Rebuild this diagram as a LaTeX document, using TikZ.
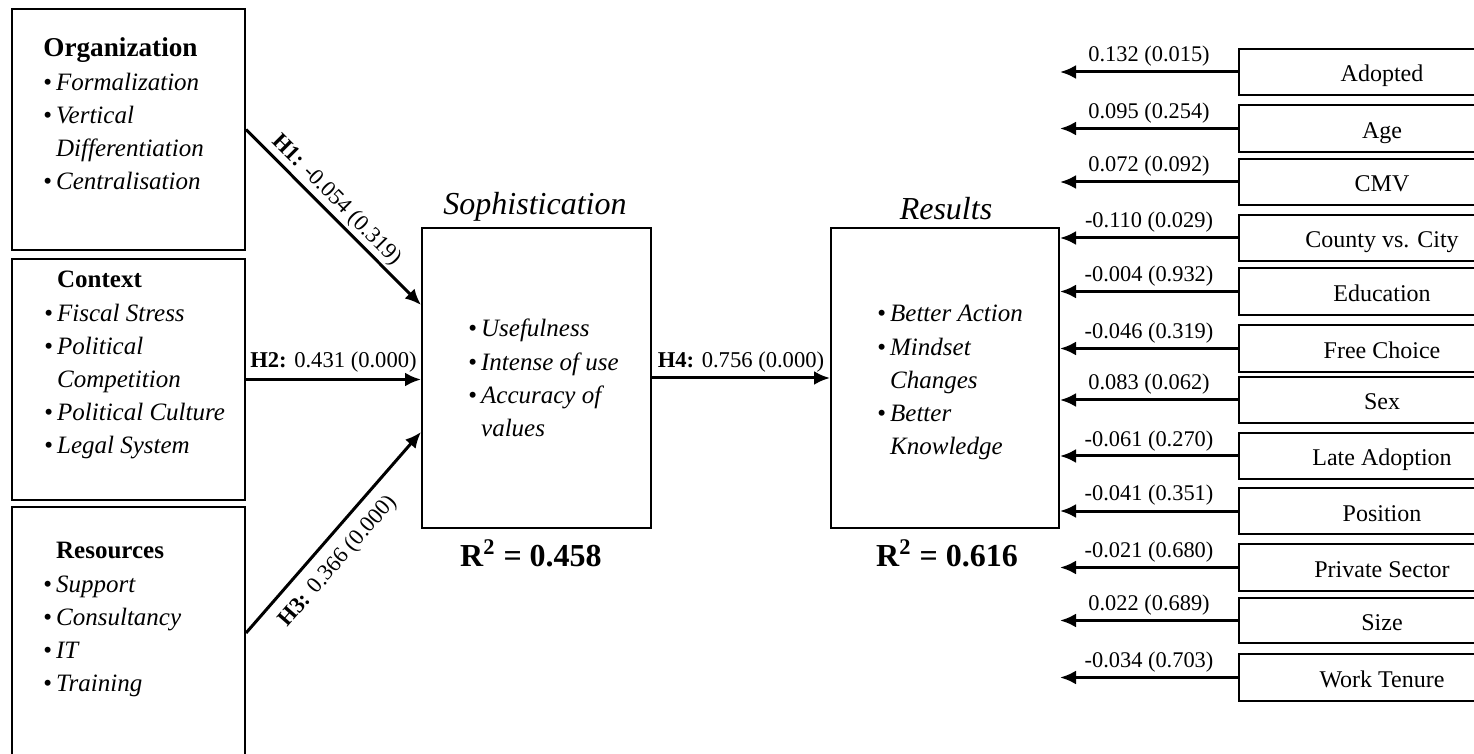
\documentclass[tikz,border=0pt]{standalone}
\usepackage{fontspec}
\setmainfont{Liberation Serif}
\usetikzlibrary{arrows.meta,fit,calc}
\newcommand{\bitem}[1]{\textbullet\hspace{2pt}\textit{#1}}
\newcommand{\citem}[1]{\phantom{\textbullet\hspace{2pt}}\textit{#1}}
\begin{document}
\begin{tikzpicture}[x=0.5pt,y=-0.5pt,
  box/.style={draw,line width=1pt,inner sep=0pt},
  rtxt/.style={anchor=base,inner sep=0pt,yshift=-5pt,font=\fontsize{12}{14}\selectfont},
  arr/.style={line width=1.5pt,-{Latex[length=8pt,width=7pt]}},
  lst/.style={anchor=base west,inner sep=0pt,font=\fontsize{12.5}{16.6}\selectfont},
  ttl/.style={anchor=base,inner sep=0pt,font=\fontsize{16}{19}\selectfont\itshape},
  rsq/.style={anchor=base,inner sep=0pt,font=\fontsize{16}{19}\selectfont\bfseries},
  hlab/.style={font=\fontsize{11.3}{13}\selectfont},
  nlab/.style={midway,anchor=base,inner sep=0pt,yshift=5pt,font=\fontsize{11.2}{13}\selectfont}]
\useasboundingbox (0,0) rectangle (1474,754);
\clip (0,0) rectangle (1474,754);

% left boxes
\node[box,fit={(12,9)(245,250)}] (org) {};
\node[box,fit={(12,259)(245,500)}] (ctx) {};
\node[box,fit={(12,507)(245,759)}] (res) {};
% central boxes
\node[box,fit={(422,228)(651,528)}] (soph) {};
\node[box,fit={(831,228)(1059,528)}] (rslt) {};

% left texts
\node[lst] (orgt) at (43,57) {\begin{tabular}[t]{@{}l@{}}{\fontsize{13.6}{16.6}\selectfont\textbf{Organization}}\\
  \bitem{Formalization}\\ \bitem{Vertical}\\ \citem{Differentiation}\\ \bitem{Centralisation}\end{tabular}};
\node[lst] (ctxt) at (44,288) {\begin{tabular}[t]{@{}l@{}}\citem{\textbf{\upshape Context}}\\
  \bitem{Fiscal Stress}\\ \bitem{Political}\\ \citem{Competition}\\ \bitem{Political Culture}\\ \bitem{Legal System}\end{tabular}};
\node[lst] (rest) at (43,559) {\begin{tabular}[t]{@{}l@{}}\citem{\textbf{\upshape Resources}}\\
  \bitem{Support}\\ \bitem{Consultancy}\\ \bitem{IT}\\ \bitem{Training}\end{tabular}};

% central texts
\node[ttl] (sopht) at (535,215) {Sophistication};
\node[lst] (sophl) at (468,337) {\begin{tabular}[t]{@{}l@{}}\bitem{Usefulness}\\ \bitem{Intense of use}\\ \bitem{Accuracy of}\\ \citem{values}\end{tabular}};
\node[rsq] (sophr) at (531,567) {R\textsuperscript{2} = 0.458};
\node[ttl] (rsltt) at (946,220) {Results};
\node[lst] (rsltl) at (877,322) {\begin{tabular}[t]{@{}l@{}}\bitem{Better Action}\\ \bitem{Mindset}\\ \citem{Changes}\\ \bitem{Better}\\ \citem{Knowledge}\end{tabular}};
\node[rsq] (rsltr) at (947,567) {R\textsuperscript{2} = 0.616};

% hypothesis arrows
\draw[arr] (org.east) -- ($(soph.west)+(0,-73)$)
  node[pos=0.46,sloped,above,inner sep=1.2pt,hlab] (h1) {\textbf{H1:} -0.054 (0.319)};
\draw[arr] (ctx.east) -- (ctx.east -| soph.west)
  node[midway,anchor=base,inner sep=0pt,yshift=6pt,hlab] (h2) {\textbf{H2:} 0.431 (0.000)};
\draw[arr] (res.east) -- ($(soph.west)+(0,54)$)
  node[pos=0.43,sloped,below,inner sep=5.5pt,hlab] (h3) {\textbf{H3:} 0.366 (0.000)};
\draw[arr] (soph.east) -- (soph.east -| rslt.west)
  node[midway,anchor=base,inner sep=0pt,yshift=5pt,hlab] (h4) {\textbf{H4:} 0.756 (0.000)};

% control variables
\foreach \n/\ya/\yb/\t/\v in {
  b1/49/95/Adopted/0.132 (0.015),
  b2/105/152/Age/0.095 (0.254),
  b3/159/205/CMV/0.072 (0.092),
  b4/215/261/County vs. City/-0.110 (0.029),
  b5/268/315/Education/-0.004 (0.932),
  b6/325/372/Free Choice/-0.046 (0.319),
  b7/377/423/Sex/0.083 (0.062),
  b8/433/479/Late Adoption/-0.061 (0.270),
  b9/488/534/Position/-0.041 (0.351),
  b10/544/591/Private Sector/-0.021 (0.680),
  b11/598/643/Size/0.022 (0.689),
  b12/654/701/Work Tenure/-0.034 (0.703)}{
  \node[box,fit={(1239,\ya)(1525,\yb)}] (\n) {};
  \node[rtxt] (\n t) at (\n.center) {\t};
  \draw[arr] (\n.west) -- (\n.west -| rslt.east) node[nlab] {\v};
}
\end{tikzpicture}
\end{document}
